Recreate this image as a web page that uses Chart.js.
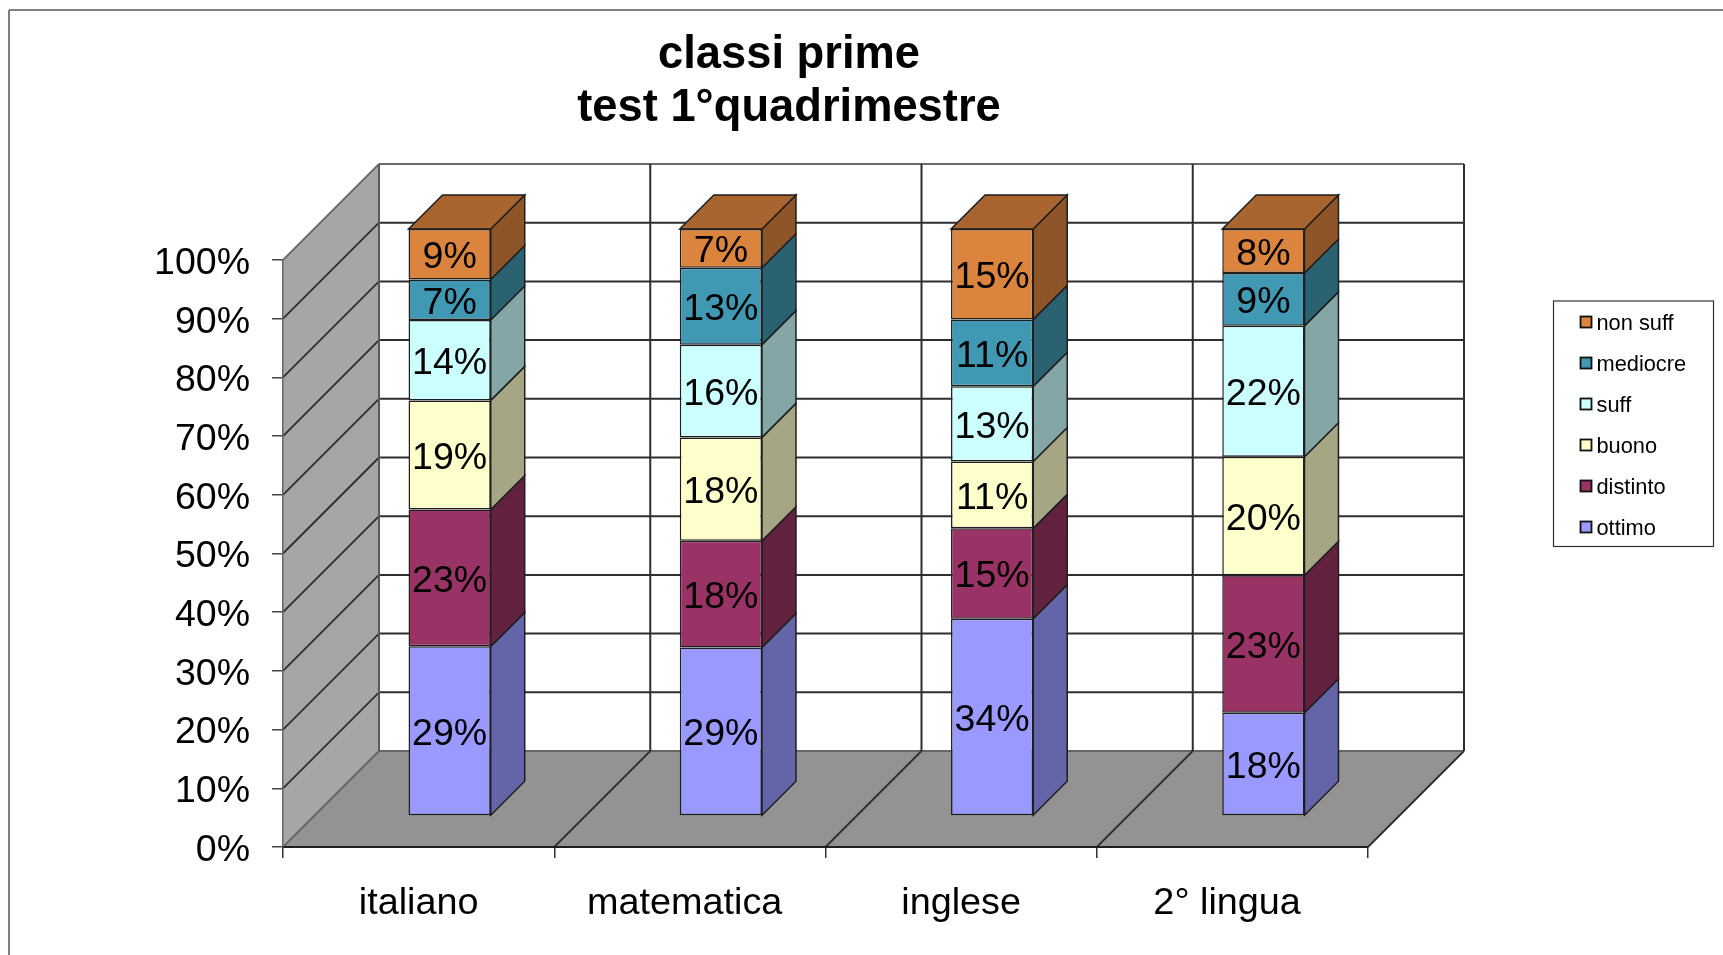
<!DOCTYPE html>
<html lang="en">
<head>
    <meta charset="UTF-8">
    <title>classi prime - test 1°quadrimestre</title>
    <script src="https://cdn.jsdelivr.net/npm/chart.js"></script>
    <style>
        html, body { margin: 0; padding: 0; background: white; overflow: hidden; }
        canvas { display: block; }
    </style>
</head>
<body>
    <canvas id="chart" width="1723" height="955"></canvas>
    <script>
        // Values, labels show them rounded
        const categories = ['italiano', 'matematica ', 'inglese', '2° lingua '];
        const ottimo = [28.9, 28.7, 33.6, 17.6];
        const distinto = [23.3, 18.2, 15.4, 23.4];
        const buono = [18.6, 17.6, 11.4, 20.2];
        const suff = [13.7, 15.8, 12.8, 22.3];
        const mediocre = [6.9, 13.1, 11.4, 9.0];
        const nonSuff = [8.6, 6.6, 15.4, 7.5];

        const FONT = '"Liberation Sans", Arial, sans-serif';
        const WALL_DEPTH = 96;    // back wall offset from the axis plane
        const BAR_SHIFT = 31;     // bars stand this far in from the axis plane
        const BAR_DEPTH = 34;

        function shade(front, side, top) {
            return { backgroundColor: front, side: side, top: top };
        }

        function poly(ctx, pts, fill, stroke, lw) {
            ctx.beginPath();
            pts.forEach((p, i) => i ? ctx.lineTo(p[0], p[1]) : ctx.moveTo(p[0], p[1]));
            ctx.closePath();
            if (fill) { ctx.fillStyle = fill; ctx.fill(); }
            if (stroke) { ctx.strokeStyle = stroke; ctx.lineWidth = lw; ctx.stroke(); }
        }

        function line(ctx, x1, y1, x2, y2, color, lw) {
            ctx.beginPath();
            ctx.moveTo(x1, y1);
            ctx.lineTo(x2, y2);
            ctx.strokeStyle = color;
            ctx.lineWidth = lw;
            ctx.stroke();
        }

        const box3d = {
            id: 'box3d',
            afterLayout(chart) {
                // title sits left of the canvas centre
                chart.titleBlock.left = 0;
                chart.titleBlock.right = 1578;
            },
            beforeDraw(chart) {
                const ctx = chart.ctx;
                const a = chart.chartArea;
                const d = WALL_DEPTH;
                ctx.save();
                // page frame
                line(ctx, 9, 955, 9, 10, '#808080', 2);
                line(ctx, 9, 10, 1723, 10, '#808080', 2);
                // walls and floor
                poly(ctx, [[a.left + d, a.top - d], [a.right + d, a.top - d], [a.right + d, a.bottom - d], [a.left + d, a.bottom - d]], '#ffffff');
                poly(ctx, [[a.left, a.top], [a.left + d, a.top - d], [a.left + d, a.bottom - d], [a.left, a.bottom]], '#a6a6a6');
                poly(ctx, [[a.left, a.bottom], [a.left + d, a.bottom - d], [a.right + d, a.bottom - d], [a.right, a.bottom]], '#939393');
                // horizontal grid
                const y = chart.scales.y;
                y.ticks.forEach((t, i) => {
                    const py = y.getPixelForTick(i);
                    const c = t.value === 100 ? '#6a6a6a' : '#2e2e2e';
                    if (t.value > 0) line(ctx, a.left + d, py - d, a.right + d, py - d, c, 2);
                    if (t.value > 0) line(ctx, a.left, py, a.left + d, py - d, c, 1.8);
                });
                line(ctx, a.left + d, a.bottom - d, a.right + d, a.bottom - d, '#666666', 2);
                line(ctx, a.left, a.bottom, a.left + d, a.bottom - d, '#666666', 1.8);
                // vertical grid at the category boundaries
                const step = (a.right - a.left) / categories.length;
                for (let i = 0; i <= categories.length; i++) {
                    const px = a.left + step * i;
                    line(ctx, px + d, a.top - d, px + d, a.bottom - d, i === 0 ? '#5a5a5a' : '#2e2e2e', 2);
                    if (i > 0) line(ctx, px, a.bottom, px + d, a.bottom - d, '#2e2e2e', 1.8);
                }
                ctx.restore();
            },
            beforeDatasetsDraw(chart) {
                const ctx = chart.ctx;
                const s = BAR_SHIFT;
                const b = BAR_DEPTH;
                ctx.save();
                chart.data.datasets.forEach((ds, i) => {
                    chart.getDatasetMeta(i).data.forEach(el => {
                        const xl = el.x - el.width / 2 + s;
                        const xr = el.x + el.width / 2 + s;
                        const yt = el.y - s;
                        const yb = el.base - s;
                        poly(ctx, [[xr, yt], [xr + b, yt - b], [xr + b, yb - b], [xr, yb]], ds.side, '#1e1e1e', 1.5);
                        if (i === chart.data.datasets.length - 1) {
                            poly(ctx, [[xl, yt], [xl + b, yt - b], [xr + b, yt - b], [xr, yt]], ds.top, '#1e1e1e', 1.5);
                        }
                    });
                });
                ctx.restore();
                // the bars themselves get drawn moved into the box
                ctx.save();
                ctx.translate(s, -s);
            },
            afterDatasetsDraw(chart) {
                const ctx = chart.ctx;
                ctx.restore();
                ctx.save();
                ctx.font = '37.5px ' + FONT;
                ctx.fillStyle = '#000000';
                ctx.textAlign = 'center';
                ctx.textBaseline = 'middle';
                chart.data.datasets.forEach((ds, i) => {
                    chart.getDatasetMeta(i).data.forEach((el, j) => {
                        const label = Math.round(ds.data[j]) + '%';
                        ctx.fillText(label, el.x + BAR_SHIFT, (el.y + el.base) / 2 - BAR_SHIFT + 3.5);
                    });
                });
                ctx.restore();
            },
            afterDraw(chart) {
                // legend, top entry is the last series
                const ctx = chart.ctx;
                ctx.save();
                ctx.strokeStyle = '#333333';
                ctx.lineWidth = 1.2;
                ctx.strokeRect(1553.5, 301, 160, 245.5);
                ctx.font = '21.8px ' + FONT;
                ctx.textBaseline = 'middle';
                const list = chart.data.datasets.slice().reverse();
                list.forEach((ds, i) => {
                    const cy = 322 + i * 41;
                    ctx.fillStyle = ds.backgroundColor;
                    ctx.fillRect(1580.5, cy - 5.5, 11, 11);
                    ctx.strokeStyle = '#111111';
                    ctx.lineWidth = 1.8;
                    ctx.strokeRect(1580.5, cy - 5.5, 11, 11);
                    ctx.fillStyle = '#000000';
                    ctx.fillText(ds.label, 1596.5, cy + 1.5);
                });
                ctx.restore();
            }
        };

        new Chart(document.getElementById('chart'), {
            type: 'bar',
            data: {
                labels: categories,
                datasets: [
                    { label: 'ottimo', data: ottimo, ...shade('#9999ff', '#6464a8', '#7373bf') },
                    { label: 'distinto', data: distinto, ...shade('#993366', '#62213f', '#732650') },
                    { label: 'buono', data: buono, ...shade('#ffffcc', '#a6a684', '#bfbf99') },
                    { label: 'suff', data: suff, ...shade('#ccffff', '#85a6a6', '#99bfbf') },
                    { label: 'mediocre', data: mediocre, ...shade('#4198b2', '#2a6272', '#317285') },
                    { label: 'non suff', data: nonSuff, ...shade('#db843d', '#8e5628', '#a8652f') }
                ]
            },
            plugins: [box3d],
            options: {
                responsive: false,
                animation: false,
                layout: { padding: { right: 355 } },
                datasets: {
                    bar: {
                        categoryPercentage: 1,
                        barPercentage: 0.303,
                        borderColor: '#1e1e1e',
                        borderWidth: 1.5,
                        borderSkipped: false,
                        clip: false
                    }
                },
                plugins: {
                    legend: { display: false },
                    tooltip: { enabled: false },
                    title: {
                        display: true,
                        text: ['classi prime', 'test 1°quadrimestre'],
                        color: '#000000',
                        font: { family: FONT, size: 45.3, weight: 'bold', lineHeight: 106 / 2 / 45.3 },
                        padding: { top: 29, bottom: 125 }
                    }
                },
                scales: {
                    x: {
                        stacked: true,
                        afterFit(scale) { scale.height = 108; },
                        grid: { drawOnChartArea: false, tickLength: 11, color: '#333333', lineWidth: 1.5 },
                        border: { color: '#1e1e1e', width: 2 },
                        ticks: {
                            color: '#000000',
                            padding: 23,
                            maxRotation: 0,
                            font: { family: FONT, size: 37.8 }
                        }
                    },
                    y: {
                        stacked: true,
                        min: 0,
                        max: 100,
                        afterFit(scale) { scale.width = 283; },
                        grid: { drawOnChartArea: false, tickLength: 11, color: '#444444', lineWidth: 1.5 },
                        border: { color: '#666666', width: 1.5 },
                        ticks: {
                            stepSize: 10,
                            color: '#000000',
                            padding: 22,
                            labelOffset: 3.5,
                            font: { family: FONT, size: 37.5 },
                            callback: v => v + '%'
                        }
                    }
                }
            }
        });
    </script>
</body>
</html>
